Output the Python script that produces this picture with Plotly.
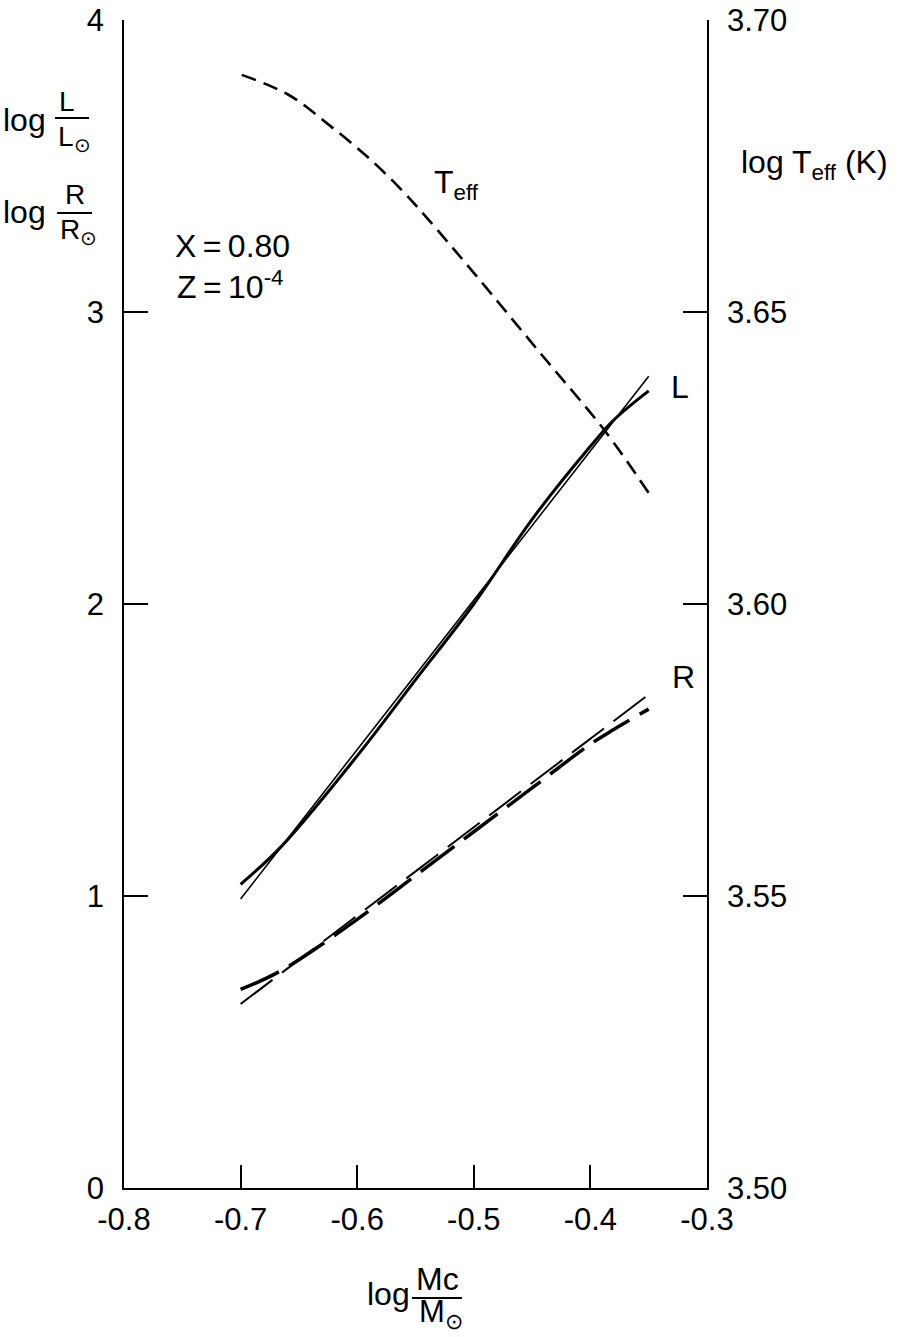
import plotly.graph_objects as go

# ---- data ----
mc_L_curve = [-0.70, -0.665, -0.60, -0.55, -0.50, -0.45, -0.40, -0.38, -0.35]
L_curve = [1.04, 1.17, 1.48, 1.74, 2.00, 2.29, 2.54, 2.63, 2.73]
mc_L_fit = [-0.70, -0.35]
L_fit = [0.99, 2.78]

mc_R_curve = [-0.70, -0.665, -0.60, -0.55, -0.50, -0.45, -0.40, -0.38, -0.35]
R_curve = [0.68, 0.745, 0.92, 1.07, 1.22, 1.37, 1.52, 1.57, 1.64]
mc_R_fit = [-0.70, -0.35]
R_fit = [0.63, 1.69]

mc_T = [-0.699, -0.659, -0.624, -0.588, -0.560, -0.541, -0.500, -0.444, -0.387, -0.350]
logTeff = [3.6906, 3.6872, 3.6820, 3.6760, 3.6705, 3.6663, 3.6567, 3.6432, 3.6295, 3.6190]

left_ticks = [0, 1, 2, 3, 4]
right_ticks = [3.50, 3.55, 3.60, 3.65, 3.70]
right_tick_labels = ["3.50", "3.55", "3.60", "3.65", "3.70"]
x_ticks = [-0.8, -0.7, -0.6, -0.5, -0.4, -0.3]
x_tick_labels = ["-0.8", "-0.7", "-0.6", "-0.5", "-0.4", "-0.3"]

FONT = "Liberation Sans, Arial, Helvetica, sans-serif"
W, H = 900, 1337
L0, R0, T0, B0 = 124, 707, 20, 1188  # plot-area edges in page pixels

def xp(px):
    return (px - L0) / (R0 - L0)

def yp(py):
    return (B0 - py) / (B0 - T0)

fig = go.Figure()
fig.add_trace(go.Scatter(x=mc_L_fit, y=L_fit, mode="lines",
                         line=dict(color="black", width=1.6), showlegend=False))
fig.add_trace(go.Scatter(x=mc_L_curve, y=L_curve, mode="lines", line_shape="spline",
                         line=dict(color="black", width=3), showlegend=False))
fig.add_trace(go.Scatter(x=mc_R_fit, y=R_fit, mode="lines",
                         line=dict(color="black", width=2, dash="40px,12px"), showlegend=False))
fig.add_trace(go.Scatter(x=mc_R_curve, y=R_curve, mode="lines", line_shape="spline",
                         line=dict(color="black", width=3.5, dash="42px,12px"), showlegend=False))
fig.add_trace(go.Scatter(x=mc_T, y=logTeff, mode="lines", line_shape="spline", yaxis="y2",
                         line=dict(color="black", width=2.6, dash="15px,8px"), showlegend=False))

tickfont = dict(family=FONT, size=31, color="black")
fig.update_layout(
    width=W, height=H, autosize=False,
    margin=dict(l=L0, r=W - R0, t=T0, b=H - B0, pad=0),
    paper_bgcolor="white", plot_bgcolor="white",
    font=dict(family=FONT, size=31, color="black"),
    xaxis=dict(range=[-0.8, -0.3], tickvals=x_ticks, ticktext=x_tick_labels,
               ticks="inside", ticklen=23, tickwidth=1.5, tickcolor="black",
               showline=True, linecolor="black", linewidth=1.5, mirror=False,
               showgrid=False, zeroline=False, tickfont=tickfont, ticklabelstandoff=3,
               automargin=False, ticklabeloverflow="allow"),
    yaxis=dict(range=[0, 4], tickvals=left_ticks,
               ticks="inside", ticklen=24, tickwidth=1.5, tickcolor="black",
               showline=True, linecolor="black", linewidth=1.5,
               showgrid=False, zeroline=False, tickfont=tickfont, ticklabelstandoff=12,
               automargin=False, ticklabeloverflow="allow"),
    yaxis2=dict(range=[3.5, 3.7], tickvals=right_ticks, ticktext=right_tick_labels,
                overlaying="y", side="right",
                ticks="inside", ticklen=24, tickwidth=1.5, tickcolor="black",
                showline=True, linecolor="black", linewidth=1.5,
                showgrid=False, zeroline=False, tickfont=tickfont, ticklabelstandoff=12,
                automargin=False, ticklabeloverflow="allow"),
)

def ann(text, px, py, size=32, xanchor="center", yanchor="middle"):
    fig.add_annotation(text=text, x=xp(px), y=yp(py), xref="paper", yref="paper",
                       showarrow=False, xanchor=xanchor, yanchor=yanchor,
                       font=dict(family=FONT, size=size, color="black"))

def bar(x1, x2, py):
    fig.add_shape(type="line", xref="paper", yref="paper",
                  x0=xp(x1), x1=xp(x2), y0=yp(py), y1=yp(py),
                  line=dict(color="black", width=1.8))

# in-plot labels
ann("T<sub>eff</sub>", 456, 184)
ann("X\u2009=\u20090.80", 232, 246)
ann("Z\u2009=\u200910<sup>-4</sup>", 230, 285)
ann("L", 680, 387)
ann("R", 683, 677)

# right axis title
ann("log T<sub>eff</sub> (K)", 815, 164)

# left axis title: log L/L_sun and log R/R_sun
ann("log", 24, 120)
ann("L", 67, 101, size=28)
ann("L<sub>⊙</sub>", 74, 138, size=28)
bar(55, 89, 118)

ann("log", 24, 212)
ann("R", 75, 195, size=28)
ann("R<sub>⊙</sub>", 78, 232, size=28)
bar(57, 92, 213)

# bottom axis title: log Mc/M_sun
ann("log", 388, 1294)
ann("Mc", 437, 1279, size=32)
ann("M<sub>⊙</sub>", 441, 1314, size=31)
bar(412, 462, 1298)

fig.write_html("out.html", config={"displayModeBar": False},
               post_script="document.body.style.margin='0px';")
